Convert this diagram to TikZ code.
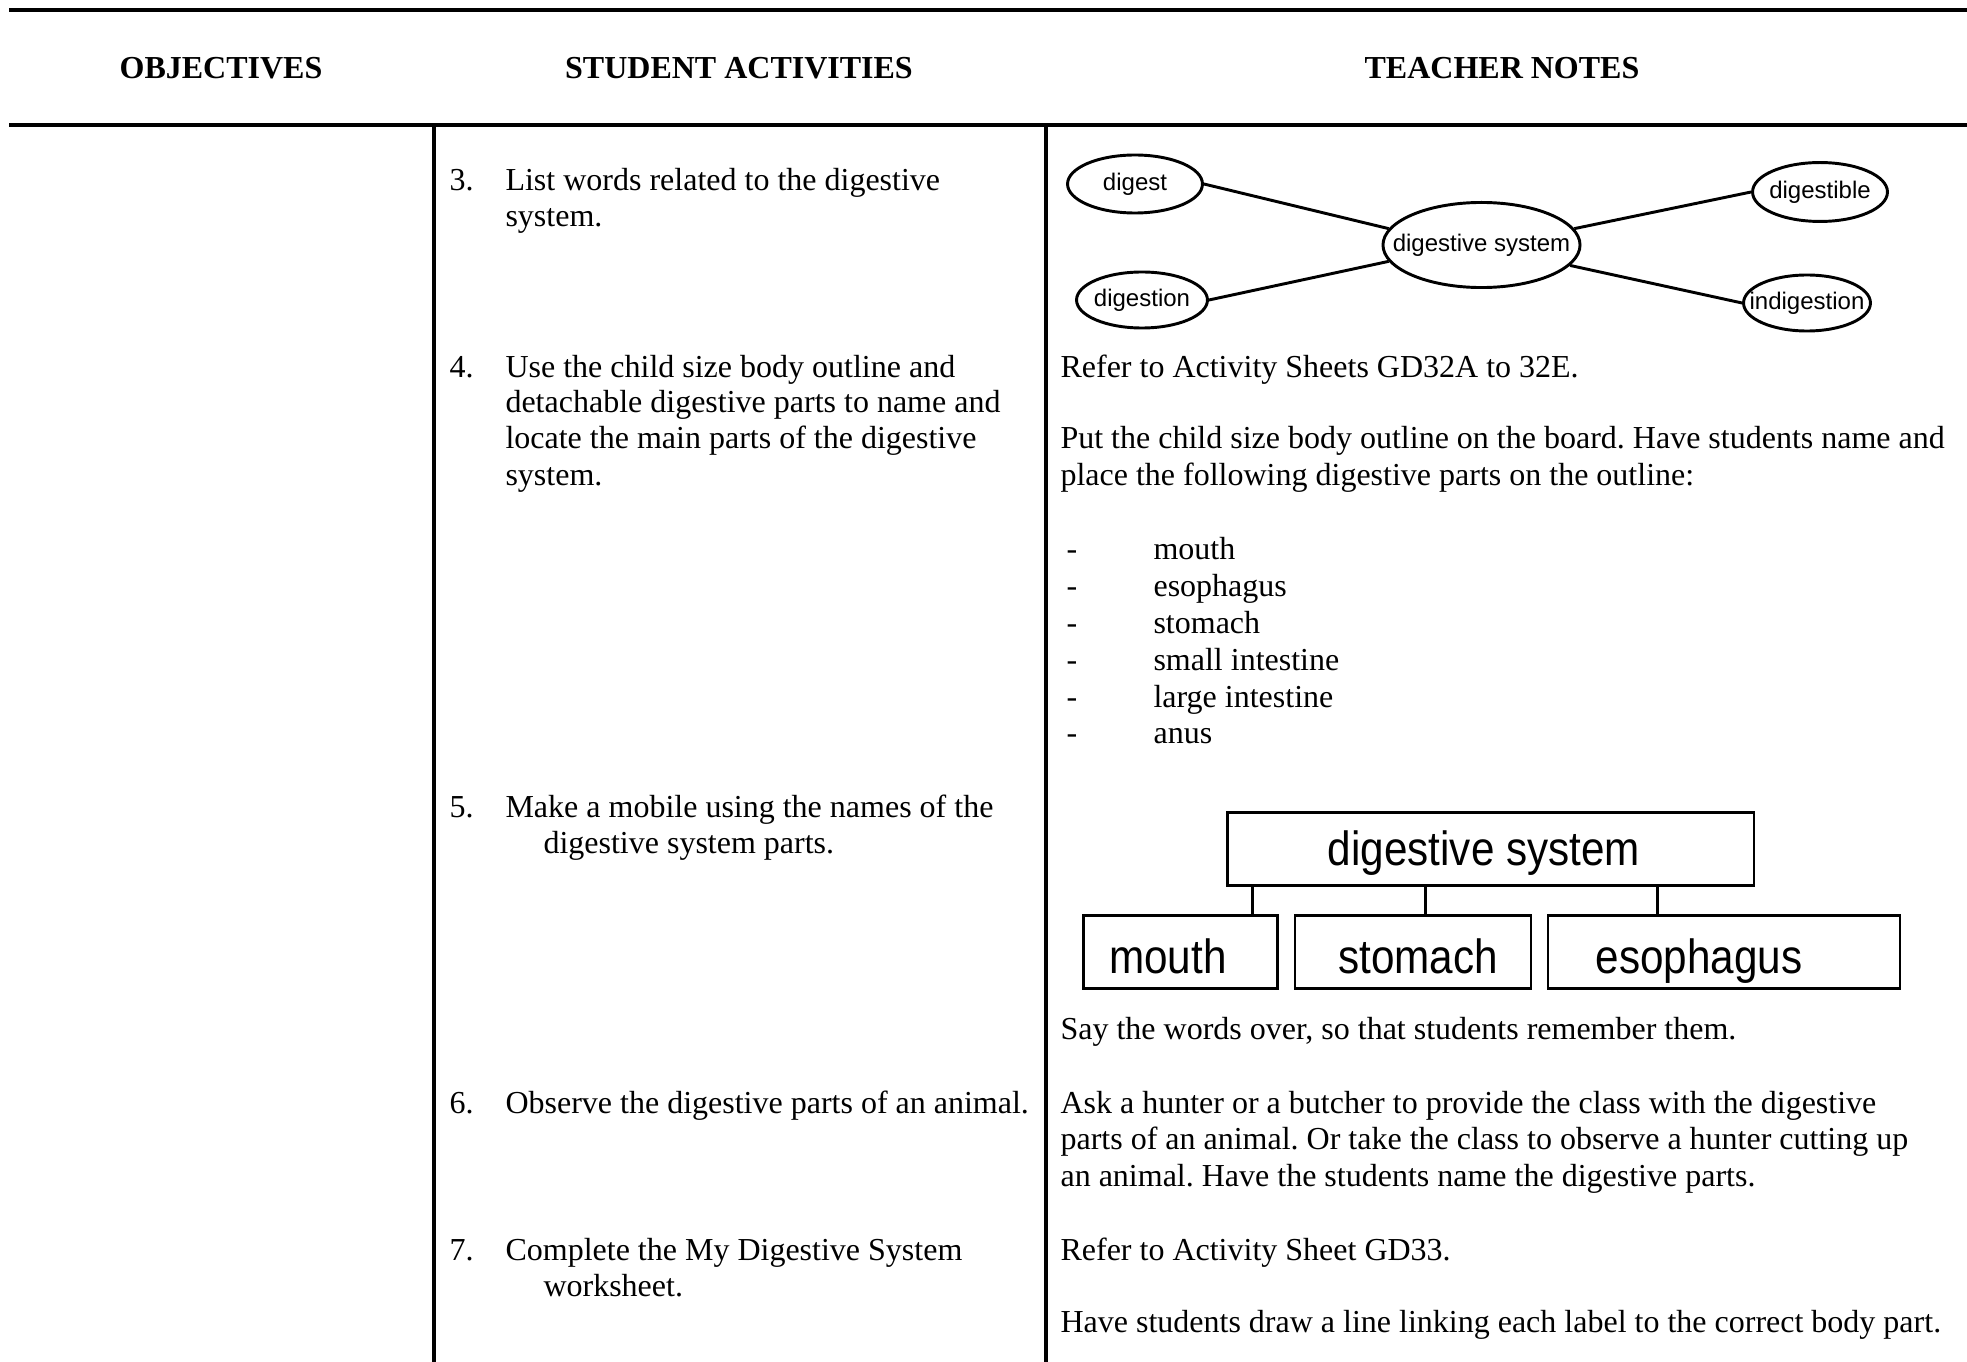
\documentclass[tikz,border=0pt]{standalone}
\usepackage{fontspec}
\setmainfont{Liberation Serif}
\newfontfamily\sansn{Liberation Sans}
\newfontfamily\sansb[FakeStretch=0.88]{Liberation Sans}
\usetikzlibrary{shapes.geometric,calc}
\frenchspacing
\begin{document}
\begin{tikzpicture}[x=0.375pt,y=-0.375pt,
  ln/.style={anchor=base west,inner sep=0pt,font=\fontsize{12}{13.8}\selectfont},
  hd/.style={anchor=base,inner sep=0pt,font=\fontsize{12}{13.8}\selectfont\bfseries},
  rulethick/.style={line width=1.5pt},
  bub/.style={draw,ellipse,line width=1.1pt,inner sep=0pt,label={[inner sep=0pt,font=\sansn\fontsize{9}{10}\selectfont]center:#1}},
  bubline/.style={line width=1.1pt},
  bx/.style={draw,rectangle,line width=1.1pt,inner sep=0pt,minimum height=27.4pt},
  bxt/.style={anchor=base,inner sep=0pt,font=\sansb\fontsize{18}{20}\selectfont},
  bxline/.style={line width=1.1pt}]
\useasboundingbox (0,0) rectangle (1967,1362);
\fill[white] (0,0) rectangle (1967,1362);
% table rules
\draw[rulethick] (9,10) -- (1967,10);
\draw[rulethick] (9,125) -- (1967,125);
\draw[rulethick] (434,125) -- (434,1362);
\draw[rulethick] (1046,125) -- (1046,1362);
% header
\node[hd] (h1) at (221,79) {OBJECTIVES};
\node[hd] (h2) at (739,79) {STUDENT ACTIVITIES};
\node[hd] (h3) at (1502,79) {TEACHER NOTES};
% student activities
\node[ln] (n3) at (449,191) {3.};
\node[ln] (a3a) at (505,191) {List words related to the digestive};
\node[ln] (a3b) at (505,227) {system.};
\node[ln] (n4) at (449,377) {4.};
\node[ln] (a4a) at (505,377) {Use the child size body outline and};
\node[ln] (a4b) at (505,413) {detachable digestive parts to name and};
\node[ln] (a4c) at (505,449) {locate the main parts of the digestive};
\node[ln] (a4d) at (505,486) {system.};
\node[ln] (n5) at (449,817) {5.};
\node[ln] (a5a) at (505,817) {Make a mobile using the names of the};
\node[ln] (a5b) at (543,853) {digestive system parts.};
\node[ln] (n6) at (449,1113) {6.};
\node[ln] (a6a) at (505,1113) {Observe the digestive parts of an animal.};
\node[ln] (n7) at (449,1260) {7.};
\node[ln] (a7a) at (505,1260) {Complete the My Digestive System};
\node[ln] (a7b) at (543,1296) {worksheet.};
% teacher notes
\node[ln] (t4a) at (1060,377) {Refer to Activity Sheets GD32A to 32E.};
\node[ln] (t4b) at (1060,449) {Put the child size body outline on the board. Have students name and};
\node[ln] (t4c) at (1060,486) {place the following digestive parts on the outline:};
\foreach \w [count=\i] in {mouth,esophagus,stomach,small intestine,large intestine,anus}{
  \node[ln] (d\i) at (1066,{523+\i*36.8}) {-};
  \node[ln] (w\i) at (1153,{523+\i*36.8}) {\w};
}
\node[ln] (t5) at (1060,1039) {Say the words over, so that students remember them.};
\node[ln] (t6a) at (1060,1113) {Ask a hunter or a butcher to provide the class with the digestive};
\node[ln] (t6b) at (1060,1149) {parts of an animal. Or take the class to observe a hunter cutting up};
\node[ln] (t6c) at (1060,1186) {an animal. Have the students name the digestive parts.};
\node[ln] (t7a) at (1060,1260) {Refer to Activity Sheet GD33.};
\node[ln] (t7b) at (1060,1332) {Have students draw a line linking each label to the correct body part.};
% word web
\node[bub={digestive system},minimum width=73.9pt,minimum height=31.9pt] (ds) at (1481.5,245) {};
\node[bub={digest},minimum width=50.6pt,minimum height=21.75pt] (dg) at (1135,184) {};
\node[bub={digestion},minimum width=49.1pt,minimum height=21pt] (dn) at (1142,300) {};
\node[bub={digestible},minimum width=50.6pt,minimum height=22.1pt] (db) at (1820,192) {};
\node[bub={indigestion},minimum width=47.6pt,minimum height=21pt] (id) at (1807,303) {};
\draw[bubline] (dg.east) -- (ds.170);
\draw[bubline] (dn.east) -- (ds.190);
\draw[bubline] (db.west) -- (ds.10);
\draw[bubline] (id.west) -- (ds.-13);
% mobile
\node[bx,minimum width=197.6pt] (top) at (1490.5,849) {};
\node[bx,minimum width=73pt] (mo) at (1180.5,952) {};
\node[bx,minimum width=88.5pt] (st) at (1413,952) {};
\node[bx,minimum width=132pt] (es) at (1724,952) {};
\node[bxt] (topt) at (1484,865) {digestive system};
\node[bxt] (mot) at (1168,973) {mouth};
\node[bxt] (stt) at (1418,973) {stomach};
\node[bxt] (est) at (1699,973) {esophagus};
\coordinate (cm) at ($(mo.north west)!0.865!(mo.north east)$);
\coordinate (cs) at ($(st.north west)!0.553!(st.north east)$);
\coordinate (ce) at ($(es.north west)!0.313!(es.north east)$);
\draw[bxline] (cm) -- (cm |- top.south);
\draw[bxline] (cs) -- (cs |- top.south);
\draw[bxline] (ce) -- (ce |- top.south);
\end{tikzpicture}
\end{document}
